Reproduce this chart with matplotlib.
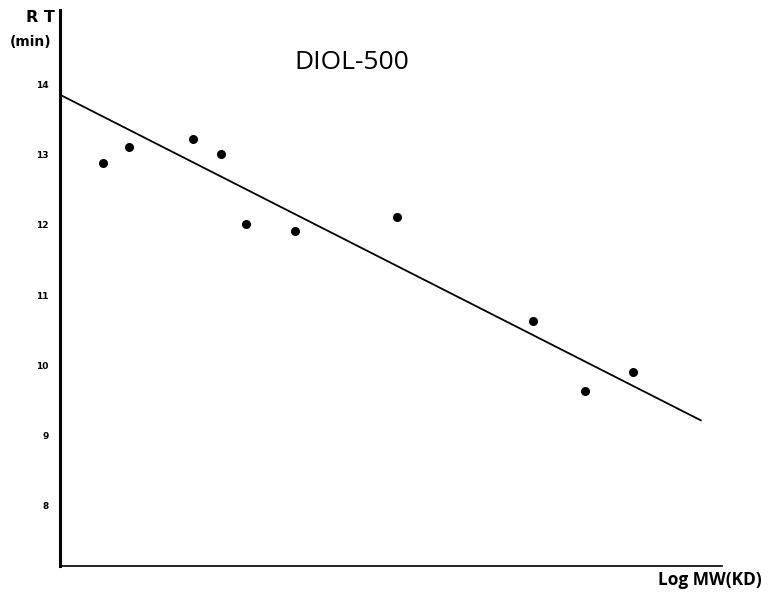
#RT vs Log MW calibration plot, DIOL-500 column
import numpy as np	#handling arrays
import matplotlib
matplotlib.use('Agg')
import matplotlib.pyplot as plt	#to plot

###################################################################
#data (x in arbitrary units along the Log MW axis)
log_mw = [0.65, 1.04, 2.01, 2.43, 2.81, 3.55, 5.09, 7.15, 7.93, 8.66]
rt_min = [12.89, 13.11, 13.23, 13.01, 12.01, 11.91, 12.11, 10.63, 9.63, 9.90]
#fitted line end points
fit_x = [0.0, 9.68]
fit_y = [13.86, 9.21]
y_ticks = [8, 9, 10, 11, 12, 13, 14]

####################################################
fig = plt.figure(figsize=(7.68, 5.98), dpi=100)
ax = fig.add_axes([60/768, 1-566/598, 662/768, 556/598])

ax.plot(fit_x, fit_y, color='black', lw=1.3)
ax.plot(log_mw, rt_min, 'o', color='black', markersize=5.5)

ax.set_xlim(0, 10)
ax.set_ylim(7.13, 15.07)
ax.set_xticks([])
ax.set_yticks(y_ticks)
ax.set_yticklabels([str(t) for t in y_ticks], fontsize=6.5, fontweight='bold')
ax.tick_params(axis='y', length=0, pad=8)

for s in ['top', 'right']:
    ax.spines[s].set_visible(False)
ax.spines['left'].set_linewidth(2.2)
ax.spines['bottom'].set_linewidth(1.2)

ax.text(0.44, 0.905, 'DIOL-500', transform=ax.transAxes, ha='center', va='center',
        fontsize=19, family='Open Sans')
fig.text(55/768, 1-17/598, 'R T', ha='right', va='center', fontsize=11.5, fontweight='bold')
fig.text(31/768, 1-42/598, '(min)', ha='center', va='center', fontsize=10, fontweight='bold')
fig.text(762/768, 1-580/598, 'Log MW(KD)', ha='right', va='center', fontsize=12.5,
         fontweight='bold', family='Open Sans')

plt.savefig('out.png', dpi=100)
